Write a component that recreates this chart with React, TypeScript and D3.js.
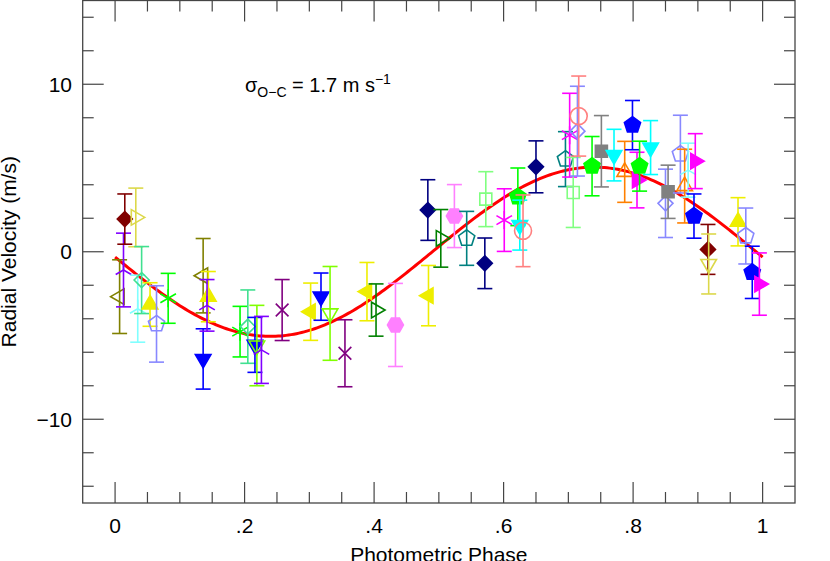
import * as d3 from "d3";

const W = 830;
const H = 561;
const LEFT = 82.7;
const RIGHT = 795;
const TOP = 0.5;
const BOTTOM = 503;
const FONT = "'Liberation Sans', Arial, Helvetica, sans-serif";

// fitted orbit (semi-amplitude in m/s, phase shift)
const K = 5.05;
const PHASE0 = -0.01;

const X_TICKS = [0, 0.2, 0.4, 0.6, 0.8, 1];
const X_TICK_LABELS = ["0", ".2", ".4", ".6", ".8", "1"];
const Y_TICKS = [-10, 0, 10];
const Y_TICK_LABELS = ["\u221210", "0", "10"];

const phase = [
  0.007, 0.013, 0.015, 0.032, 0.035, 0.041, 0.054, 0.064, 0.082, 0.136,
  0.136, 0.144, 0.142, 0.193, 0.205, 0.216, 0.219, 0.226, 0.258, 0.302,
  0.318, 0.332, 0.355, 0.389, 0.403, 0.433, 0.483, 0.484, 0.503, 0.524,
  0.543, 0.571, 0.5725, 0.601, 0.622, 0.625, 0.63, 0.65, 0.6955, 0.702,
  0.7075, 0.714, 0.716, 0.7366, 0.751, 0.7705, 0.787, 0.799, 0.806, 0.81,
  0.827, 0.85, 0.854, 0.873, 0.8796, 0.885, 0.894, 0.896, 0.9156, 0.9167,
  0.962, 0.974, 0.984, 0.995,
];
const rv = [
  -2.68, -1.09, 1.95, 2.05, -3.4, -1.69, -3.15, -4.31, -2.78, -1.43,
  -6.4, -2.68, -3.2, -4.77, -4.47, -5.56, -5.6, -5.86, -3.48, -3.58,
  -2.68, -3.68, -6.06, -2.38, -3.48, -4.37, 2.49, -2.62, 0.8, 2.13,
  0.8, -0.69, 3.14, 1.89, 3.28, 1.59, 1.25, 5.07, 5.53, 6.96,
  3.54, 7.2, 8.1, 5.11, 6.0, 5.77, 4.77, 7.56, 4.28, 5.11,
  6.22, 2.89, 3.58, 5.83, 3.92, 4.87, 2.13, 5.41, 0.14, -0.73,
  1.79, 0.94, -1.23, -1.93,
];
const err = [
  2.2, 2.2, 1.5, 1.75, 2.0, 2.0, 1.3, 2.28, 1.49, 2.22,
  1.8, 1.5, 1.54, 1.51, 2.19, 1.64, 2.4, 2.0, 1.82, 1.71,
  1.41, 2.8, 2.0, 1.74, 1.56, 2.48, 1.81, 1.8, 1.72, 1.88,
  1.61, 1.51, 1.64, 1.87, 1.72, 1.49, 2.14, 1.55, 1.64, 2.5,
  2.09, 2.68, 2.39, 1.77, 2.13, 1.54, 1.82, 1.47, 1.66, 1.49,
  1.61, 2.04, 1.59, 2.32, 2.2, 1.61, 1.32, 1.64, 1.49, 1.79,
  1.44, 1.67, 1.56, 1.86,
];
const dataset = [
  "D", "C", "A", "B", "E", "F", "G", "H", "I", "D",
  "J", "G", "C", "I", "F", "J", "K", "C", "L", "M",
  "J", "K", "L", "M", "N", "O", "P", "M", "N", "O",
  "Q", "P", "R", "S", "T", "U", "V", "P", "Q", "S",
  "R", "W", "V", "T", "X", "U", "Y", "Z", "AA", "T",
  "U", "W", "X", "H", "Y", "E", "Z", "AA", "A", "B2",
  "G", "H", "Z", "AA",
];

const STYLES: Record<string, { shape: string; color: string; fill: boolean }> = {
  A: { shape: "diamond", color: "#800000", fill: true },
  B: { shape: "triRight", color: "#dcd84a", fill: false },
  B2: { shape: "triDown", color: "#dcd84a", fill: false },
  C: { shape: "tristar", color: "#8000ff", fill: false },
  D: { shape: "triLeft", color: "#808000", fill: false },
  E: { shape: "tristar", color: "#80ffff", fill: false },
  F: { shape: "diamond", color: "#40e090", fill: false },
  G: { shape: "triUp", color: "#eeee00", fill: true },
  H: { shape: "pentagon", color: "#8888ff", fill: false },
  I: { shape: "asterisk", color: "#00ff00", fill: false },
  J: { shape: "triDown", color: "#0000ff", fill: true },
  K: { shape: "triDown", color: "#80ff00", fill: false },
  L: { shape: "cross", color: "#800080", fill: false },
  M: { shape: "triLeft", color: "#eeee00", fill: true },
  N: { shape: "triRight", color: "#008000", fill: false },
  O: { shape: "hexagon", color: "#ff80ff", fill: true },
  P: { shape: "diamond", color: "#000080", fill: true },
  Q: { shape: "pentagon", color: "#008080", fill: false },
  R: { shape: "square", color: "#80ff80", fill: false },
  S: { shape: "asterisk", color: "#ff00ff", fill: false },
  T: { shape: "pentagon", color: "#00ff00", fill: true },
  U: { shape: "triDown", color: "#00ffff", fill: true },
  V: { shape: "circle", color: "#ff8080", fill: false },
  W: { shape: "diamond", color: "#8888ff", fill: false },
  X: { shape: "square", color: "#808080", fill: true },
  Y: { shape: "triUp", color: "#ff8000", fill: false },
  Z: { shape: "pentagon", color: "#0000ff", fill: true },
  AA: { shape: "triRight", color: "#ff00ff", fill: true },
};

const polygon = (n: number, r: number, rot: number) => {
  const pts = d3.range(n).map((i) => {
    const a = rot + (i * 2 * Math.PI) / n;
    return [r * Math.cos(a), r * Math.sin(a)];
  });
  return "M" + pts.map((p) => p[0].toFixed(2) + "," + p[1].toFixed(2)).join("L") + "Z";
};

const spokes = (angles: number[], r: number, through: boolean) =>
  angles
    .map((deg) => {
      const a = (deg * Math.PI) / 180;
      const x = r * Math.cos(a);
      const y = r * Math.sin(a);
      return through ? `M${-x},${-y}L${x},${y}` : `M0,0L${x},${y}`;
    })
    .join("");

const markerPath = (shape: string) => {
  switch (shape) {
    case "diamond":
      return "M0,-7.5L7.5,0L0,7.5L-7.5,0Z";
    case "triUp":
      return polygon(3, 9, -Math.PI / 2);
    case "triDown":
      return polygon(3, 9, Math.PI / 2);
    case "triLeft":
      return polygon(3, 9, Math.PI);
    case "triRight":
      return polygon(3, 9, 0);
    case "pentagon":
      return polygon(5, 8.5, -Math.PI / 2);
    case "hexagon":
      return polygon(6, 8, 0);
    case "square":
      return "M-6,-6H6V6H-6Z";
    case "circle":
      return d3.arc()({ innerRadius: 0, outerRadius: 8.5, startAngle: 0, endAngle: 2 * Math.PI }) || "";
    case "asterisk":
      return spokes([90, 30, 150], 9, true);
    case "tristar":
      return spokes([-90, 30, 150], 9, false);
    case "cross":
      return spokes([45, 135], 9, true);
    default:
      return "";
  }
};

export default function App() {
  const x = d3.scaleLinear().domain([-0.05, 1.05]).range([LEFT, RIGHT]);
  const y = d3.scaleLinear().domain([-15, 15]).range([BOTTOM, TOP]);

  const model = d3.range(0, 1.0001, 0.004).map((p) => [p, -K * Math.sin(2 * Math.PI * (p - PHASE0))]);
  const curve = d3
    .line<number[]>()
    .x((d) => x(d[0]))
    .y((d) => y(d[1]))(model);

  const xMinor = d3.range(0, 1.0001, 0.05);
  const yMinor = d3.range(-14, 14.001, 2);
  const isMajorX = (v: number) => X_TICKS.some((t) => Math.abs(t - v) < 1e-6);
  const isMajorY = (v: number) => Y_TICKS.some((t) => Math.abs(t - v) < 1e-6);
  const axisColor = "#454545";

  return (
    <svg width={W} height={H} style={{ position: "absolute", left: 0, top: 0, background: "#fff" }} fontFamily={FONT}>
      <rect x={LEFT} y={TOP} width={RIGHT - LEFT} height={BOTTOM - TOP} fill="#fff" stroke={axisColor} strokeWidth={1.3} />
      {xMinor.map((v, i) => {
        const len = isMajorX(v) ? 21 : 11;
        return (
          <g key={"xt" + i} stroke={axisColor} strokeWidth={1.2}>
            <line x1={x(v)} x2={x(v)} y1={BOTTOM} y2={BOTTOM - len} />
            <line x1={x(v)} x2={x(v)} y1={TOP} y2={TOP + len} />
          </g>
        );
      })}
      {yMinor.map((v, i) => {
        const len = isMajorY(v) ? 21 : 11;
        return (
          <g key={"yt" + i} stroke={axisColor} strokeWidth={1.2}>
            <line x1={LEFT} x2={LEFT + len} y1={y(v)} y2={y(v)} />
            <line x1={RIGHT} x2={RIGHT - len} y1={y(v)} y2={y(v)} />
          </g>
        );
      })}
      {X_TICKS.map((v, i) => (
        <text key={"xl" + i} x={x(v)} y={533} textAnchor="middle" fontSize={21} fill="#000">
          {X_TICK_LABELS[i]}
        </text>
      ))}
      {Y_TICKS.map((v, i) => (
        <text key={"yl" + i} x={72} y={y(v) + 7.5} textAnchor="end" fontSize={21} fill="#000">
          {Y_TICK_LABELS[i]}
        </text>
      ))}
      <text x={(LEFT + RIGHT) / 2} y={562} textAnchor="middle" fontSize={21} fill="#000">
        Photometric Phase
      </text>
      <text transform={`translate(16,${(TOP + BOTTOM) / 2}) rotate(-90)`} textAnchor="middle" fontSize={21} fill="#000">
        Radial Velocity (m/s)
      </text>

      <path d={curve || ""} fill="none" stroke="#ff0000" strokeWidth={3} />

      {phase.map((p, i) => {
        const st = STYLES[dataset[i]];
        const cx = x(p);
        const cy = y(rv[i]);
        const top = y(rv[i] + err[i]);
        const bot = y(rv[i] - err[i]);
        const lineOnly = st.shape === "asterisk" || st.shape === "tristar" || st.shape === "cross";
        return (
          <g key={"pt" + i}>
            <g stroke={st.color} strokeWidth={1.6}>
              <line x1={cx} x2={cx} y1={top} y2={bot} />
              <line x1={cx - 7.5} x2={cx + 7.5} y1={top} y2={top} />
              <line x1={cx - 7.5} x2={cx + 7.5} y1={bot} y2={bot} />
            </g>
            <path
              transform={`translate(${cx},${cy})`}
              d={markerPath(st.shape)}
              fill={st.fill ? st.color : lineOnly ? "none" : "#fff"}
              fillOpacity={st.fill ? 1 : 0}
              stroke={st.color}
              strokeWidth={1.6}
            />
          </g>
        );
      })}

      <text x={245} y={92} fontSize={20} fill="#000">
        σ<tspan fontSize={14} dy={5}>O−C</tspan>
        <tspan dy={-5}> = 1.7 m s</tspan>
        <tspan fontSize={14} dy={-8}>−1</tspan>
      </text>
    </svg>
  );
}
